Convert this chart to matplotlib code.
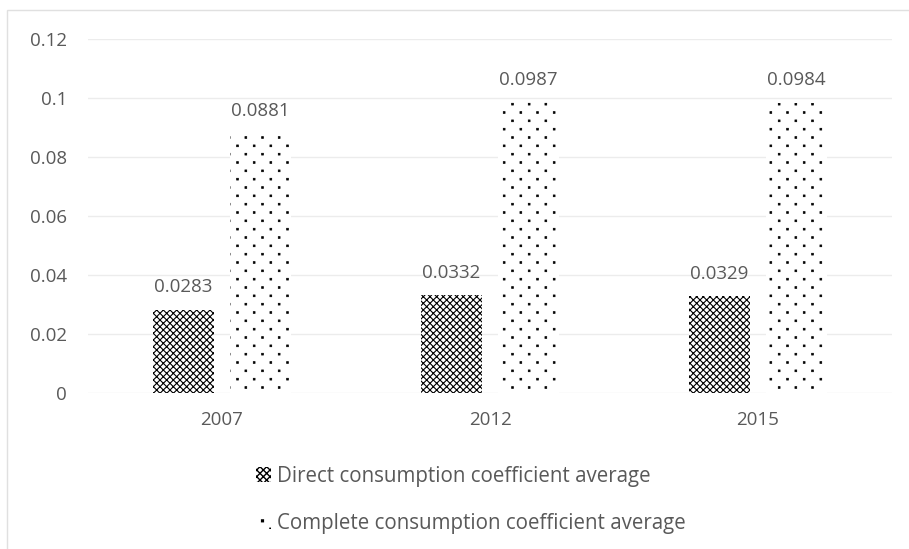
import numpy as np
import matplotlib as mpl
import matplotlib.pyplot as plt
from matplotlib import hatch as mhatch
from matplotlib.path import Path
from matplotlib.patches import Rectangle, Patch

years = ['2007', '2012', '2015']
direct = [0.0283, 0.0332, 0.0329]
complete = [0.0881, 0.0987, 0.0984]
names = ['Direct consumption coefficient average',
         'Complete consumption coefficient average']


# finer dot pattern than the stock '.' hatch (small dots, staggered rows)
class FineDots(mhatch.HatchPatternBase):
    def __init__(self, hatch, density):
        self.ncol = 6
        self.nrow = 12
        self.size = 0.018
        self.num_dots = hatch.count('.') and self.ncol * self.nrow
        self.num_vertices = self.num_dots * 5

    def set_vertices_and_codes(self, vertices, codes):
        d = self.size / 2
        sq = np.array([[-d, -d], [d, -d], [d, d], [-d, d], [-d, -d]])
        i = 0
        for r in range(self.nrow):
            y = (r + 0.5) / self.nrow
            for c in range(self.ncol):
                xx = (c + 0.25 + 0.5 * (r % 2)) / self.ncol
                vertices[i:i+5] = sq + [xx, y]
                codes[i:i+5] = [Path.MOVETO, Path.LINETO, Path.LINETO,
                                Path.LINETO, Path.CLOSEPOLY]
                i += 5


mhatch._hatch_types = [FineDots if t is mhatch.SmallFilledCircles else t
                       for t in mhatch._hatch_types]

plt.rcParams['font.family'] = ['Open Sans', 'DejaVu Sans']
grey = '#595959'

fig = plt.figure(figsize=(9.09, 5.49), dpi=100)
ax = fig.add_axes([88/909, 1-393/549, (892-88)/909, (393-39)/549])

x = np.arange(len(years))
w = 0.226
off = (w + 0.063) / 2
with mpl.rc_context({'hatch.linewidth': 0.8}):
    b1 = ax.bar(x - off, direct, w, color='white', edgecolor='black', hatch='xxxxx', linewidth=0)
    h1 = Patch(facecolor='white', edgecolor='black', hatch='xxxxx', linewidth=0)
with mpl.rc_context({'hatch.linewidth': 0.5}):
    b2 = ax.bar(x + off, complete, w, color='white', edgecolor='black', hatch='.', linewidth=0)
    h2 = Patch(facecolor='white', edgecolor='black', hatch='.', linewidth=0)

for bars, vals in ((b1, direct), (b2, complete)):
    for r, v in zip(bars, vals):
        ax.text(r.get_x() + r.get_width()/2, v + 0.0045, f'{v:.4f}',
                ha='center', va='bottom', fontsize=13.5, color=grey)

ax.set_xlim(-0.5, 2.5)
ax.set_ylim(0, 0.12)
ax.set_yticks([0, 0.02, 0.04, 0.06, 0.08, 0.1, 0.12])
ax.set_yticklabels(['0', '0.02', '0.04', '0.06', '0.08', '0.1', '0.12'])
ax.set_xticks(x)
ax.set_xticklabels(years)
ax.tick_params(length=0, labelsize=13.5, labelcolor=grey)
ax.tick_params(axis='x', pad=13)
ax.tick_params(axis='y', pad=15)
ax.grid(axis='y', color='#ececec', linewidth=1)
ax.set_axisbelow(True)
for s in ax.spines.values():
    s.set_visible(False)

leg = fig.legend([h1, h2], names, loc='center', bbox_to_anchor=(471/909, 1-500/549),
                 ncol=1, frameon=False, fontsize=14.8, labelspacing=1.3,
                 handlelength=0.7, handleheight=0.7, handletextpad=0.3)
for t in leg.get_texts():
    t.set_color(grey)

fig.patches.append(Rectangle((7/909, -0.1), 1.2, 1.1 - 10/549, transform=fig.transFigure,
                             fill=False, edgecolor='#e0e0e0', linewidth=1))

fig.savefig('out.png', dpi=100)
